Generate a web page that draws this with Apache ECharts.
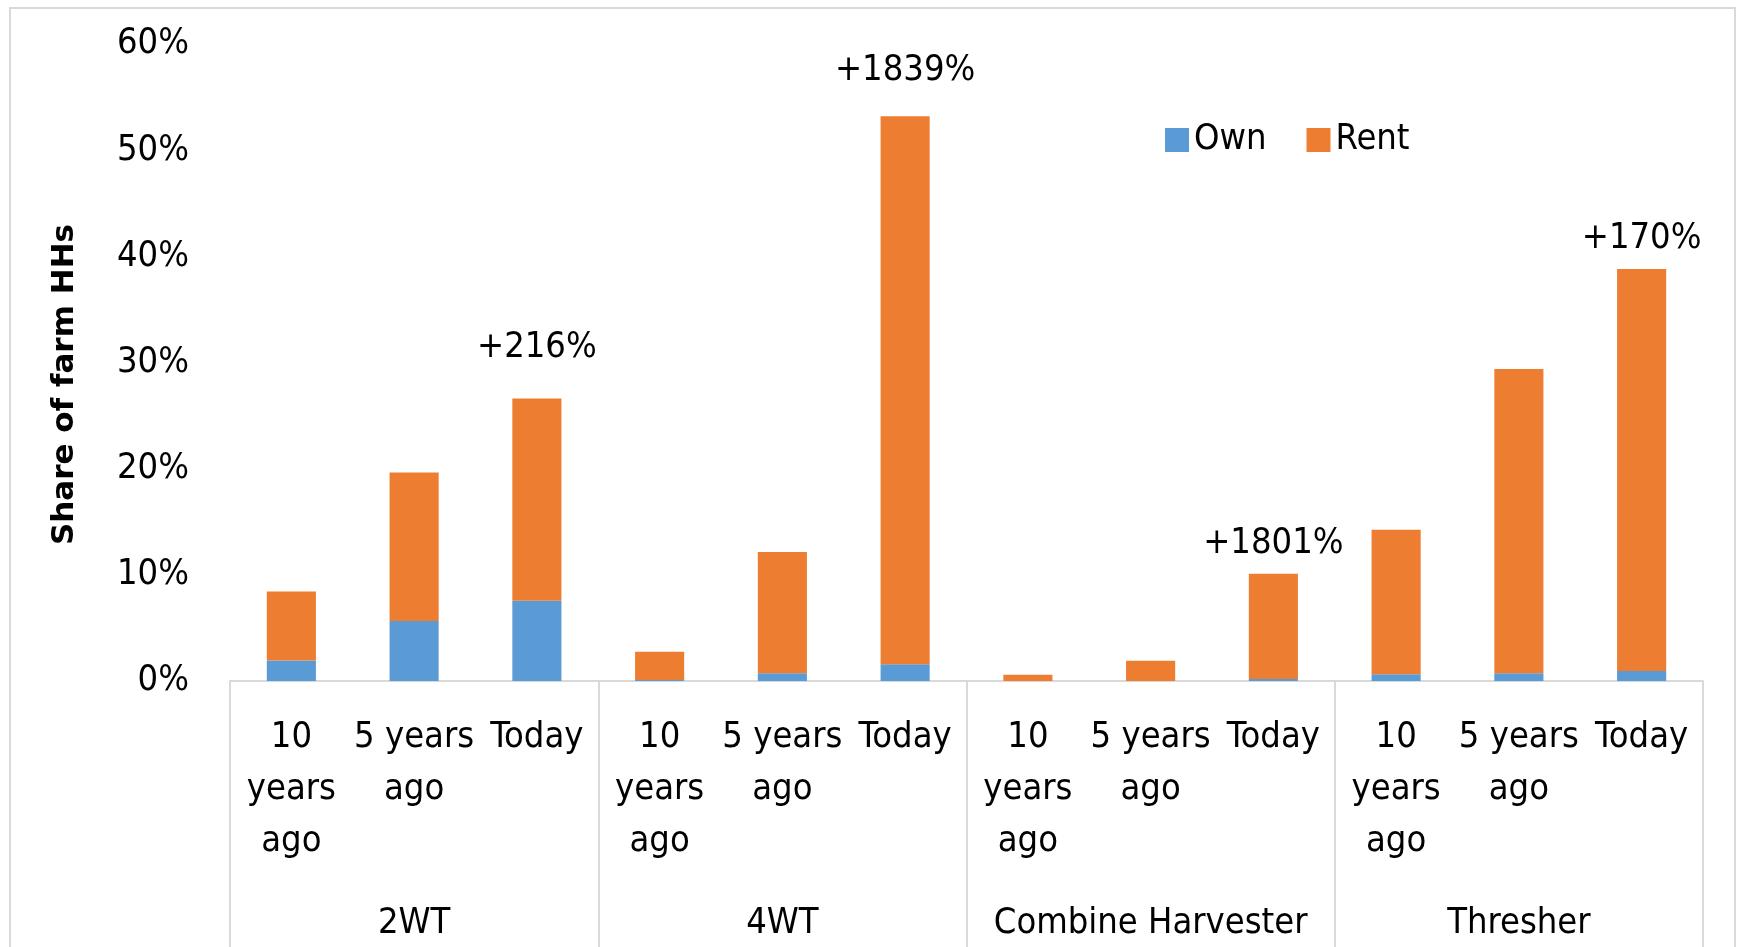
<!DOCTYPE html>
<html>
<head>
<meta charset="utf-8">
<script src="https://cdn.jsdelivr.net/npm/echarts@6/dist/echarts.min.js"></script>
<style>
html,body{margin:0;padding:0;background:#fff;}
#chart{width:1739px;height:947px;}
</style>
</head>
<body>
<div id="chart"></div>
<script>
// ---- data ----
const periods = ['10\nyears\nago', '5 years\nago', 'Today',
                 '10\nyears\nago', '5 years\nago', 'Today',
                 '10\nyears\nago', '5 years\nago', 'Today',
                 '10\nyears\nago', '5 years\nago', 'Today'];
const machines = ['2WT', '4WT', 'Combine Harvester', 'Thresher'];
const ownValues  = [1.94, 5.66, 7.57, 0.1, 0.72, 1.57, 0.0, 0.0, 0.2, 0.63, 0.72, 0.94];
const rentValues = [6.49, 13.99, 19.03, 2.65, 11.43, 51.63, 0.58, 1.9, 9.9, 13.62, 28.66, 37.86];
const changeLabels = ['', '', '+216%', '', '', '+1839%', '', '', '+1801%', '', '', '+170%'];
const yTicks = [0, 10, 20, 30, 40, 50, 60];

// ---- styling ----
const FONT = '"Liberation Sans Narrow", "DejaVu Sans Condensed", "Noto Sans", sans-serif';
const FS = 36;
const labelDist = {2: 29, 5: 24, 8: 8, 11: 8};

const chart = echarts.init(document.getElementById('chart'));

const rentData = rentValues.map((v, i) => {
  if (!changeLabels[i]) return v;
  return {
    value: v,
    label: {
      show: true, position: 'top', distance: labelDist[i],
      formatter: changeLabels[i],
      fontFamily: FONT, fontSize: FS, lineHeight: 44, color: '#000'
    }
  };
});

chart.setOption({
  animation: false,
  backgroundColor: '#fff',
  textStyle: {fontFamily: FONT},
  graphic: [{
    type: 'rect', silent: true,
    shape: {x: 10, y: 8, width: 1725, height: 960},
    style: {fill: 'none', stroke: '#d9d9d9', lineWidth: 2}
  }],
  legend: {
    data: ['Own', 'Rent'],
    left: 1160, top: 113,
    itemWidth: 24, itemHeight: 24, itemGap: 40,
    icon: 'rect',
    textStyle: {fontFamily: FONT, fontSize: FS, lineHeight: 44, color: '#000'}
  },
  grid: {left: 230, right: 36, top: 44, bottom: 266, containLabel: false, outerBoundsMode: 'none'},
  xAxis: [{
    type: 'category',
    data: periods,
    position: 'bottom',
    axisLine: {show: true, lineStyle: {color: '#d9d9d9', width: 2}},
    axisTick: {show: false},
    axisLabel: {
      interval: 0, margin: 31, color: '#000',
      fontFamily: FONT, fontSize: FS, lineHeight: 52
    }
  }, {
    type: 'category',
    data: machines,
    position: 'bottom',
    axisLine: {show: false},
    axisTick: {show: true, length: 280, inside: false, lineStyle: {color: '#d9d9d9', width: 2}},
    axisLabel: {
      interval: 0, margin: 217, color: '#000',
      fontFamily: FONT, fontSize: FS, lineHeight: 52
    }
  }],
  yAxis: {
    type: 'value',
    min: 0, max: 60, interval: 10,
    axisLine: {show: false},
    axisTick: {show: false},
    splitLine: {show: false},
    axisLabel: {
      margin: 41, color: '#000',
      fontFamily: FONT, fontSize: FS,
      formatter: v => (yTicks.includes(v) ? v + '%' : '')
    },
    name: 'Share of farm HHs',
    nameLocation: 'middle',
    nameGap: 150,
    nameRotate: 90,
    nameTextStyle: {
      fontFamily: '"DejaVu Sans", sans-serif', fontWeight: 'bold',
      fontSize: 31, color: '#000', padding: [0, 44, 0, 0]
    }
  },
  series: [{
    name: 'Own', type: 'bar', stack: 'total',
    data: ownValues, barWidth: '40%',
    itemStyle: {color: '#5B9BD5'}
  }, {
    name: 'Rent', type: 'bar', stack: 'total',
    data: rentData, barWidth: '40%',
    itemStyle: {color: '#ED7D31'}
  }]
});
</script>
</body>
</html>
